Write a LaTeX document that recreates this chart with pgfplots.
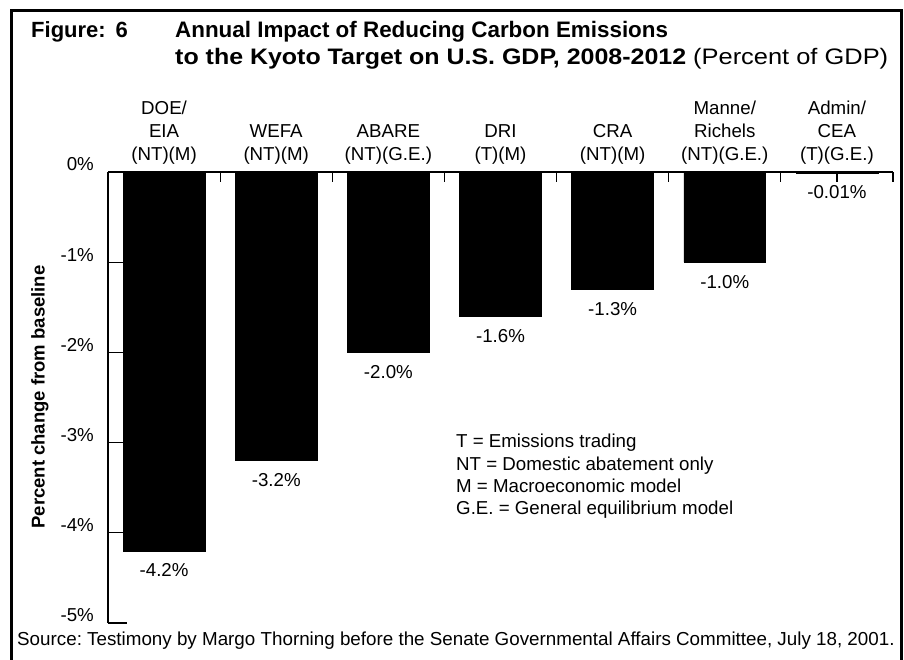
\documentclass[border=0pt]{standalone}
\usepackage{pgfplots}
\pgfplotsset{compat=1.18}
\usepackage{fontspec}
\setmainfont{Liberation Sans}
\frenchspacing
\begin{document}
\begin{tikzpicture}
\path[use as bounding box] (0pt,0pt) rectangle (904pt,-659pt);
\fill[white] (0pt,0pt) rectangle (904pt,-659pt);
\draw[line width=2.5pt] (11.5pt,-662pt) -- (11.5pt,-10.5pt) -- (901.5pt,-10.5pt) -- (901.5pt,-662pt);
\begin{axis}[
  at={(108pt,-172pt)}, anchor=north west,
  scale only axis, width=785pt, height=451pt,
  xmin=-0.5, xmax=6.5, ymin=-5, ymax=0,
  axis x line*=top, axis y line*=left,
  axis line style={line width=1.2pt, -},
  tick align=inside,
  xtick={0.5,1.5,...,6.5}, xticklabels={},
  xtick style={line width=1.2pt, black, /pgfplots/major tick length=10pt},
  ytick={-5,-4,-3,-2,-1,0},
  yticklabels={-5\%,-4\%,-3\%,-2\%,-1\%,0\%},
  ytick style={line width=1.2pt, black, /pgfplots/major tick length=19pt},
  yticklabel style={anchor=east, inner sep=0pt, xshift=-14pt, yshift=7.5pt},
  tick label style={font=\fontsize{18.7}{23}\selectfont},
  extra x ticks={0,1,2,3,4,5,6},
  extra x tick labels={{DOE/\\EIA\\(NT)(M)},{WEFA\\(NT)(M)},{ABARE\\(NT)(G.E.)},{DRI\\(T)(M)},{CRA\\(NT)(M)},{Manne/\\Richels\\(NT)(G.E.)},{Admin/\\CEA\\(T)(G.E.)}},
  extra x tick style={/pgfplots/major tick length=0pt, xticklabel style={anchor=south, align=center, inner sep=0pt, yshift=7pt, font=\fontsize{18.7}{23}\selectfont}},
]
\addplot[ybar, bar width=0.731, bar shift=0pt, fill=black, draw=black, line width=0.6pt,
  point meta=explicit symbolic,
  nodes near coords={\pgfplotspointmeta\%},
  every node near coord/.append style={anchor=north, inner sep=0pt, yshift=-12.5pt, font=\fontsize{18.7}{23}\selectfont, black}]
  table[meta=label] {
x y label
0 -4.2 -4.2
1 -3.2 -3.2
2 -2.0 -2.0
3 -1.6 -1.6
4 -1.3 -1.3
5 -1.0 -1.0
6 -0.01 -0.01
};
\end{axis}
\node[anchor=base west, inner sep=0pt, font=\fontsize{22}{29}\selectfont\bfseries] at (31pt,-37.5pt) {Figure:\hspace{10pt}6};
\node[anchor=base west, inner sep=0pt, font=\fontsize{22.4}{29}\selectfont\bfseries] at (175pt,-37.5pt) {Annual Impact of Reducing Carbon Emissions};
\node[anchor=base west, inner sep=0pt, font=\fontsize{22.4}{29}\selectfont\bfseries] at (175pt,-64.5pt) {\resizebox{511pt}{\height}{to the Kyoto Target on U.S. GDP, 2008-2012}};
\node[anchor=base west, inner sep=0pt, font=\fontsize{22.4}{29}\selectfont] at (693pt,-64.5pt) {\resizebox{195pt}{\height}{(Percent of GDP)}};
\node[rotate=90, inner sep=0pt, font=\fontsize{18.5}{22}\selectfont\bfseries] at (40pt,-397pt) {Percent change from baseline};
\node[anchor=north west, align=left, inner sep=0pt, font=\fontsize{18.7}{22.3}\selectfont] at (456pt,-434pt) {T = Emissions trading\\NT = Domestic abatement only\\M = Macroeconomic model\\G.E. = General equilibrium model};
\node[anchor=base west, inner sep=0pt, font=\fontsize{18.8}{22}\selectfont] at (17pt,-645pt) {Source: Testimony by Margo Thorning before the Senate Governmental Affairs Committee, July 18, 2001.};
\end{tikzpicture}
\end{document}
